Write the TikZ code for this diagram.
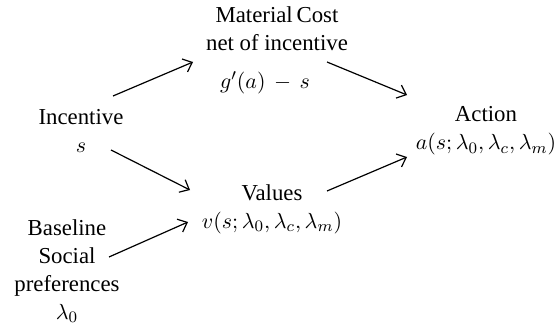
\documentclass[tikz,border=0pt]{standalone}
\usepackage{amsmath,amssymb}
\usepackage{fontspec}
\setmainfont{Liberation Serif}
\usepackage{tikz}
\usetikzlibrary{positioning,arrows.meta}

\begin{document}
\begin{tikzpicture}[
      x=0.5pt, y=-0.5pt,
      every node/.style={align=center, inner sep=0pt, font=\fontsize{11.4}{14}\selectfont},
      arrow/.style={-{Straight Barb[length=4pt,width=7pt]}, line width=0.6pt}
    ]
    \useasboundingbox (0,0) rectangle (555,331);
    \node (inc) at (81,131) {Incentive\\$s$};
    \node (mat) at (277,29) {Material\,Cost\\net of incentive};
    \node (matf) at (265,83) {$g'(a)\,-\,s$};
    \node (act) at (486,131) {Action\\$a(s;\lambda_0,\lambda_c,\lambda_m)$};
    \node (val) at (272,209) {Values\\$v(s;\lambda_0,\lambda_c,\lambda_m)$};
    \node (base) at (67,271) {Baseline\\Social\\preferences\\$\lambda_0$};
    \draw[arrow] ([shift={(32,-35)}]inc.center) -- ([shift={(-84,33)}]mat.center);
    \draw[arrow] ([shift={(50,33)}]mat.center) -- ([shift={(-79,-36)}]act.center);
    \draw[arrow] ([shift={(30,19)}]inc.center) -- ([shift={(-82,-19)}]val.center);
    \draw[arrow] ([shift={(42,-14)}]base.center) -- ([shift={(-84,13)}]val.center);
    \draw[arrow] ([shift={(55,-18)}]val.center) -- ([shift={(-79,26)}]act.center);
  \end{tikzpicture}
\end{document}
